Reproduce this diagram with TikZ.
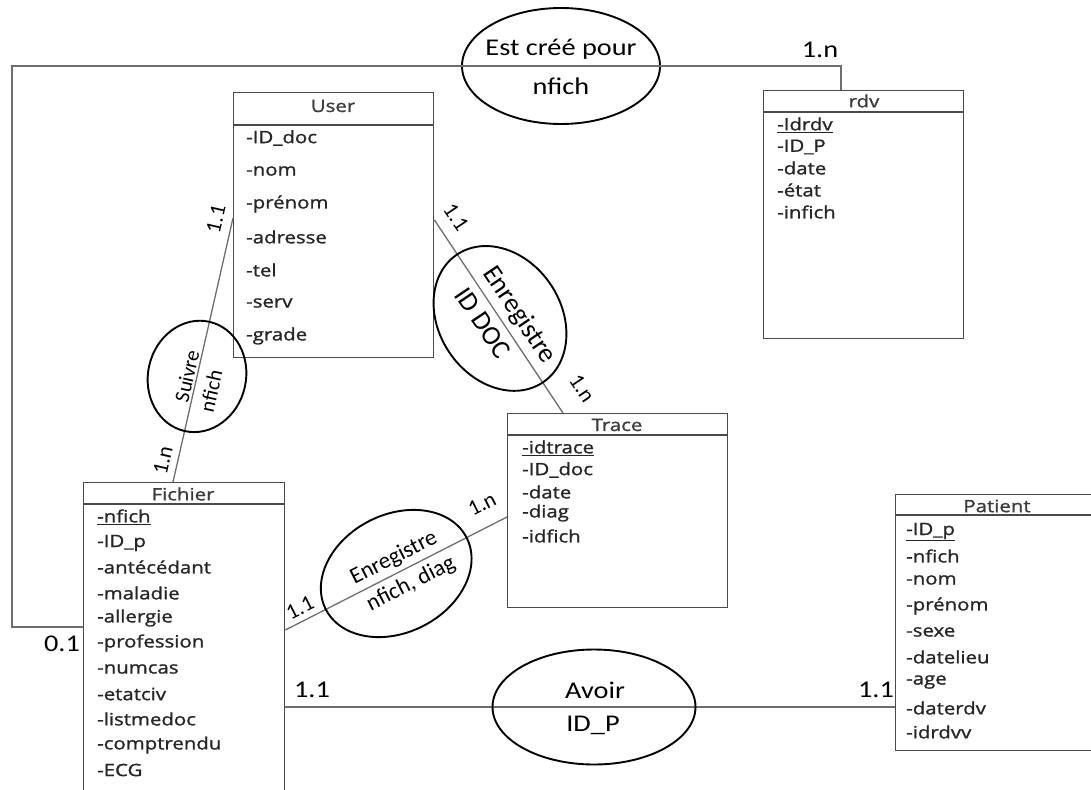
\documentclass[tikz,border=0pt]{standalone}
\usepackage{fontspec}
\usetikzlibrary{shapes.geometric,calc}
\newfontfamily\attrfont[FakeStretch=1.2,FakeBold=1.2]{Open Sans}
\newfontfamily\lblfont[FakeStretch=1.18]{Carlito}
\newfontfamily\rotfont{Carlito}
\definecolor{boxgray}{HTML}{4A4A4A}
\definecolor{linegray}{HTML}{6E6E6E}
\definecolor{txt}{HTML}{262626}
\begin{document}
\begin{tikzpicture}[x=1pt,y=-1pt,
 ent/.style={draw=boxgray, line width=1.4pt, rectangle, anchor=north west, inner sep=0pt},
 sep/.style={draw=boxgray, line width=1.4pt},
 conn/.style={draw=linegray, line width=1.3pt},
 rel/.style={draw=black, line width=1.9pt, ellipse, inner sep=0pt},
 attr/.style={anchor=west, inner sep=0pt, text=txt, font=\attrfont\fontsize{17}{20}\selectfont},
 hdr/.style={inner sep=0pt, text=txt!90, font=\attrfont\fontsize{17}{20}\selectfont},
 lbl/.style={inner sep=0pt, font=\lblfont\fontsize{24}{28}\selectfont},
 rlbl/.style={inner sep=0pt, font=\rotfont\fontsize{22}{26}\selectfont},
 rlblS/.style={inner sep=0pt, font=\rotfont\fontsize{21}{25}\selectfont},
 rlblB/.style={inner sep=0pt, font=\rotfont\fontsize{27}{31}\selectfont},
 rlblM/.style={inner sep=0pt, font=\rotfont\fontsize{23}{27}\selectfont},
]
\useasboundingbox (0,0) rectangle (1091,789);
\fill[white] (0,0) rectangle (1091,789);

% ---------- entities ----------
% User
\node[ent, minimum width=200pt, minimum height=265pt] (user) at (233,92) {};
\draw[sep] (user.north west |- 0,125) -- (user.north east |- 0,125);
\node[hdr] (userH) at (333,106) {User};
\foreach \t/\y [count=\i] in {-ID\_doc/138,-nom/171,-prénom/204,-adresse/237,-tel/270,-serv/303,-grade/336}
  \node[attr] (u\i) at (246,\y) {\t};

% rdv
\node[ent, minimum width=200pt, minimum height=248pt] (rdv) at (763,90) {};
\draw[sep] (rdv.north west |- 0,112) -- (rdv.north east |- 0,112);
\node[hdr] (rdvH) at (864,101) {rdv};
\foreach \t/\y [count=\i] in {\underline{-Idrdv}/125,-ID\_P/147,-date/168,-état/190,-infich/212}
  \node[attr] (r\i) at (777,\y) {\t};

% Trace
\node[ent, minimum width=220pt, minimum height=194pt] (trace) at (507,413) {};
\draw[sep] (trace.north west |- 0,435) -- (trace.north east |- 0,435);
\node[hdr] (traceH) at (617,425) {Trace};
\foreach \t/\y [count=\i] in {\underline{-idtrace}/448,-ID\_doc/470,-date/492,-diag/513,-idfich/536}
  \node[attr] (t\i) at (522,\y) {\t};

% Fichier
\node[ent, minimum width=201pt, minimum height=330pt] (fichier) at (83,482) {};
\draw[sep] (fichier.north west |- 0,504) -- (fichier.north east |- 0,504);
\node[hdr] (fichierH) at (183,494) {Fichier};
\foreach \t/\y [count=\i] in {\underline{-nfich}/517,-ID\_p/543,-antécédant/567,-maladie/593,-allergie/618,-profession/643,-numcas/669,-etatciv/694,-listmedoc/719,-comptrendu/745,-ECG/770}
  \node[attr] (f\i) at (97,\y) {\t};

% Patient
\node[ent, minimum width=205pt, minimum height=256pt] (patient) at (895,494) {};
\draw[sep] (patient.north west |- 0,515) -- (patient.north east |- 0,515);
\node[hdr] (patientH) at (997,506) {Patient};
\foreach \t/\y [count=\i] in {\underline{-ID\_p}/532,-nfich/556,-nom/580,-prénom/606,-sexe/632,-datelieu/657,-age/682,-daterdv/708,-idrdvv/732}
  \node[attr] (p\i) at (906,\y) {\t};

% ---------- Est créé pour ----------
\node[rel, minimum width=198pt, minimum height=116pt] (estcree) at (561,66) {};
\coordinate (topL) at (12,66);
\draw[conn] (fichier.north west |- 0,627) -| (topL) -- (estcree.west) -- (estcree.east) -| (rdv.north west -| 841,0);
\node[lbl] (estT) at (561,49) {Est créé pour};
\node[lbl] (estB) at (561,86) {nfich};
\node[lbl] (c01) at (62,644) {0.1};
\node[lbl] (c1nTop) at (820,50) {1.n};

% ---------- Suivre ----------
\coordinate (sA) at (user.north west |- 0,218);
\coordinate (sB) at (fichier.north west -| 173,0);
\draw[conn] (sA) -- (sB);
\node[rel, minimum width=112pt, minimum height=98pt, rotate=77.2] (suivre) at ($(sA)!0.6!(sB)$) {};
\node[rlblS, rotate=77.2] (suivreT) at (187,376) {Suivre};
\node[rlblS, rotate=77.2] (suivreB) at (211,391) {nfich};
\node[rlbl, rotate=77.2] (s11) at (216,219) {1.1};
\node[rlbl, rotate=77.2] (s1n) at (163,460) {1.n};

% ---------- Enregistre (ID DOC) ----------
\coordinate (eA) at (user.north east |- 0,220);
\coordinate (eB) at (trace.north west -| 563,0);
\draw[conn] (eA) -- (eB);
\node[rel, minimum width=154pt, minimum height=122pt, rotate=-56] (enr1) at ($(eA)!0.51!(eB)$) {};
\node[rlblB, rotate=-56] (enr1T) at (519,315) {Enregistre};
\node[rlblB, rotate=-56] (enr1B) at (483,323) {ID DOC};
\node[rlbl, rotate=-56] (e11) at (456,217) {1.1};
\node[rlbl, rotate=-56] (e1n) at (582,388) {1.n};

% ---------- Enregistre (nfich, diag) ----------
\coordinate (gA) at (fichier.north east |- 0,630);
\coordinate (gB) at (trace.north west |- 0,517);
\draw[conn] (gA) -- (gB);
\node[rel, minimum width=158pt, minimum height=118pt, rotate=26.9] (enr2) at ($(gA)!0.5!(gB)$) {};
\node[rlblM, rotate=26.9] (enr2T) at (394,558) {Enregistre};
\node[rlblM, rotate=26.9] (enr2B) at (411,584) {nfich, diag};
\node[rlbl, rotate=26.9] (g11) at (300,608) {1.1};
\node[rlbl, rotate=26.9] (g1n) at (482,504) {1.n};

% ---------- Avoir ----------
\coordinate (aA) at (fichier.north east |- 0,707);
\coordinate (aB) at (patient.north west |- 0,707);
\draw[conn] (aA) -- (aB);
\node[rel, minimum width=203pt, minimum height=115pt] (avoir) at (594,707) {};
\node[lbl] (avoirT) at (595,690) {Avoir};
\node[lbl] (avoirB) at (593,725) {ID\_P};
\node[lbl] (a11L) at (312,690) {1.1};
\node[lbl] (a11R) at (876,690) {1.1};
\end{tikzpicture}
\end{document}
